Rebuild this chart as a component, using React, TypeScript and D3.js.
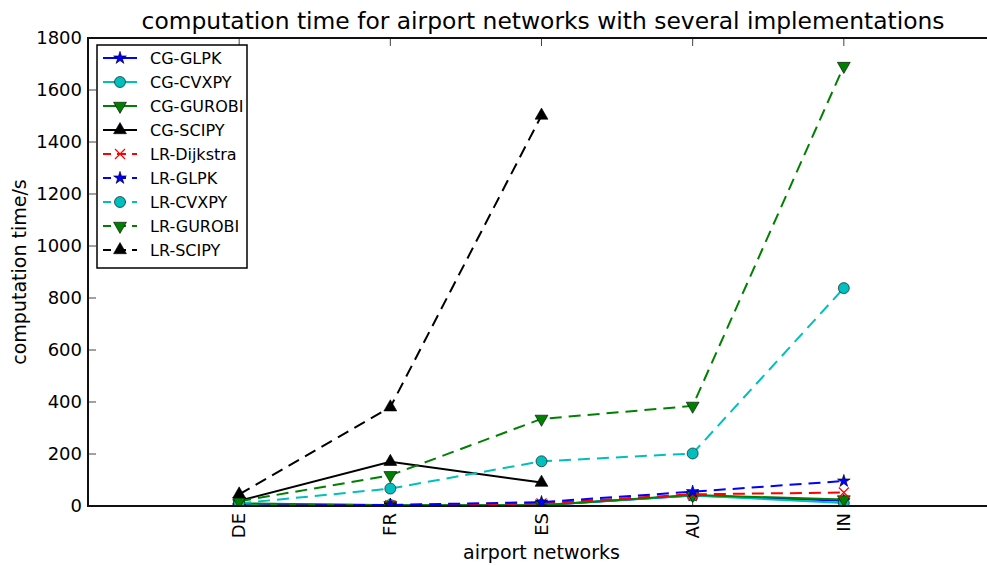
import React from 'react';
import * as d3 from 'd3';

const categories = ['DE', 'FR', 'ES', 'AU', 'IN'];
const yTicks = [0, 200, 400, 600, 800, 1000, 1200, 1400, 1600, 1800];

const cgGlpk = [2, 3, 3, 40, 20];
const cgCvxpy = [8, 4, 4, 40, 12];
const cgGurobi = [10, 3, 3, 42, 25];
const cgScipy = [20, 170, 90];
const lrDijkstra = [0, 3, 10, 45, 52];
const lrGlpk = [1, 4, 15, 55, 96];
const lrCvxpy = [10, 67, 172, 202, 838];
const lrGurobi = [18, 118, 335, 385, 1692];
const lrScipy = [45, 380, 1502];

type Series = { name: string; values: number[]; color: string; dashed: boolean; marker: string };

const series: Series[] = [
  { name: 'CG-GLPK', values: cgGlpk, color: '#0000ff', dashed: false, marker: 'star' },
  { name: 'CG-CVXPY', values: cgCvxpy, color: '#00bfbf', dashed: false, marker: 'circle' },
  { name: 'CG-GUROBI', values: cgGurobi, color: '#008000', dashed: false, marker: 'tdown' },
  { name: 'CG-SCIPY', values: cgScipy, color: '#000000', dashed: false, marker: 'tup' },
  { name: 'LR-Dijkstra', values: lrDijkstra, color: '#ff0000', dashed: true, marker: 'x' },
  { name: 'LR-GLPK', values: lrGlpk, color: '#0000ff', dashed: true, marker: 'star' },
  { name: 'LR-CVXPY', values: lrCvxpy, color: '#00bfbf', dashed: true, marker: 'circle' },
  { name: 'LR-GUROBI', values: lrGurobi, color: '#008000', dashed: true, marker: 'tdown' },
  { name: 'LR-SCIPY', values: lrScipy, color: '#000000', dashed: true, marker: 'tup' },
];

const W = 987, H = 566;
const left = 88, right = 995, top = 38, bottom = 506;
const FONT = 'DejaVu Sans, Bitstream Vera Sans, sans-serif';

function Marker({ kind, x, y, color }: { kind: string; x: number; y: number; color: string }) {
  if (kind === 'x') {
    const s = 5;
    return (
      <path d={`M${x - s},${y - s}L${x + s},${y + s}M${x - s},${y + s}L${x + s},${y - s}`} stroke={color} strokeWidth={1.2} fill="none" />
    );
  }
  let d = '';
  if (kind === 'star') d = d3.symbol().type(d3.symbolStar).size(50)()!;
  else if (kind === 'circle') d = d3.symbol().type(d3.symbolCircle).size(95)()!;
  else d = d3.symbol().type(d3.symbolTriangle).size(72)()!;
  const rot = kind === 'tdown' ? 180 : 0;
  return (
    <path d={d} transform={`translate(${x},${y}) rotate(${rot})`} fill={color} stroke="#000" strokeWidth={0.6} />
  );
}

export default function App() {
  const x = d3.scaleLinear().domain([-1, 5]).range([left, right]);
  const y = d3.scaleLinear().domain([0, 1800]).range([bottom, top]);
  const line = d3.line<number>().x((_, i) => x(i)).y((v) => y(v));

  const legX = 97, legY = 45, legW = 150, legH = 223, rowH = 24;

  return (
    <svg width={W} height={H} style={{ position: 'absolute', left: 0, top: 0, background: '#fff' }} fontFamily={FONT}>
      <rect x={0} y={0} width={W} height={H} fill="#fff" />
      <defs>
        <clipPath id="plot">
          <rect x={left} y={top} width={right - left} height={bottom - top} />
        </clipPath>
      </defs>
      <text x={543} y={29} textAnchor="middle" fontSize={23.4} fill="#000">
        computation time for airport networks with several implementations
      </text>

      {yTicks.map((t) => (
        <g key={t}>
          <line x1={left} x2={left + 8} y1={y(t)} y2={y(t)} stroke="#444" strokeWidth={1} />
          <text x={left - 6} y={y(t) + 6} textAnchor="end" fontSize={18} fill="#000">{t}</text>
        </g>
      ))}
      {categories.map((c, i) => (
        <g key={c}>
          <line x1={x(i)} x2={x(i)} y1={bottom} y2={bottom - 8} stroke="#444" strokeWidth={1} />
          <line x1={x(i)} x2={x(i)} y1={top} y2={top + 8} stroke="#444" strokeWidth={1} />
          <text transform={`translate(${x(i) + 6},${bottom + 7}) rotate(-90)`} textAnchor="end" fontSize={18} fill="#000">{c}</text>
        </g>
      ))}

      <g clipPath="url(#plot)">
        {series.map((s) => (
          <g key={s.name}>
            <path d={line(s.values)!} fill="none" stroke={s.color} strokeWidth={2} strokeDasharray={s.dashed ? '12,7' : undefined} />
            {s.values.map((v, i) => (
              <Marker key={i} kind={s.marker} x={x(i)} y={y(v)} color={s.color} />
            ))}
          </g>
        ))}
      </g>

      {/* spines */}
      <line x1={left} x2={W} y1={top} y2={top} stroke="#111" strokeWidth={2} />
      <line x1={left} x2={W} y1={bottom} y2={bottom} stroke="#111" strokeWidth={2} />
      <line x1={left} x2={left} y1={top - 1} y2={bottom + 1} stroke="#111" strokeWidth={2} />

      <text x={(left + right) / 2} y={559} textAnchor="middle" fontSize={19} fill="#000">airport networks</text>
      <text transform={`translate(26,${(top + bottom) / 2}) rotate(-90)`} textAnchor="middle" fontSize={19} fill="#000">computation time/s</text>

      <rect x={legX} y={legY} width={legW} height={legH} fill="#fff" stroke="#000" strokeWidth={1.5} />
      {series.map((s, i) => {
        const cy = legY + 13 + i * rowH;
        return (
          <g key={s.name}>
            <line x1={legX + 6} x2={legX + 40} y1={cy} y2={cy} stroke={s.color} strokeWidth={2} strokeDasharray={s.dashed ? '9,6' : undefined} strokeDashoffset={s.dashed ? 1 : 0} />
            <Marker kind={s.marker} x={legX + 23} y={cy} color={s.color} />
            <text x={legX + 53} y={cy + 6} fontSize={16} fill="#000">{s.name}</text>
          </g>
        );
      })}
    </svg>
  );
}
